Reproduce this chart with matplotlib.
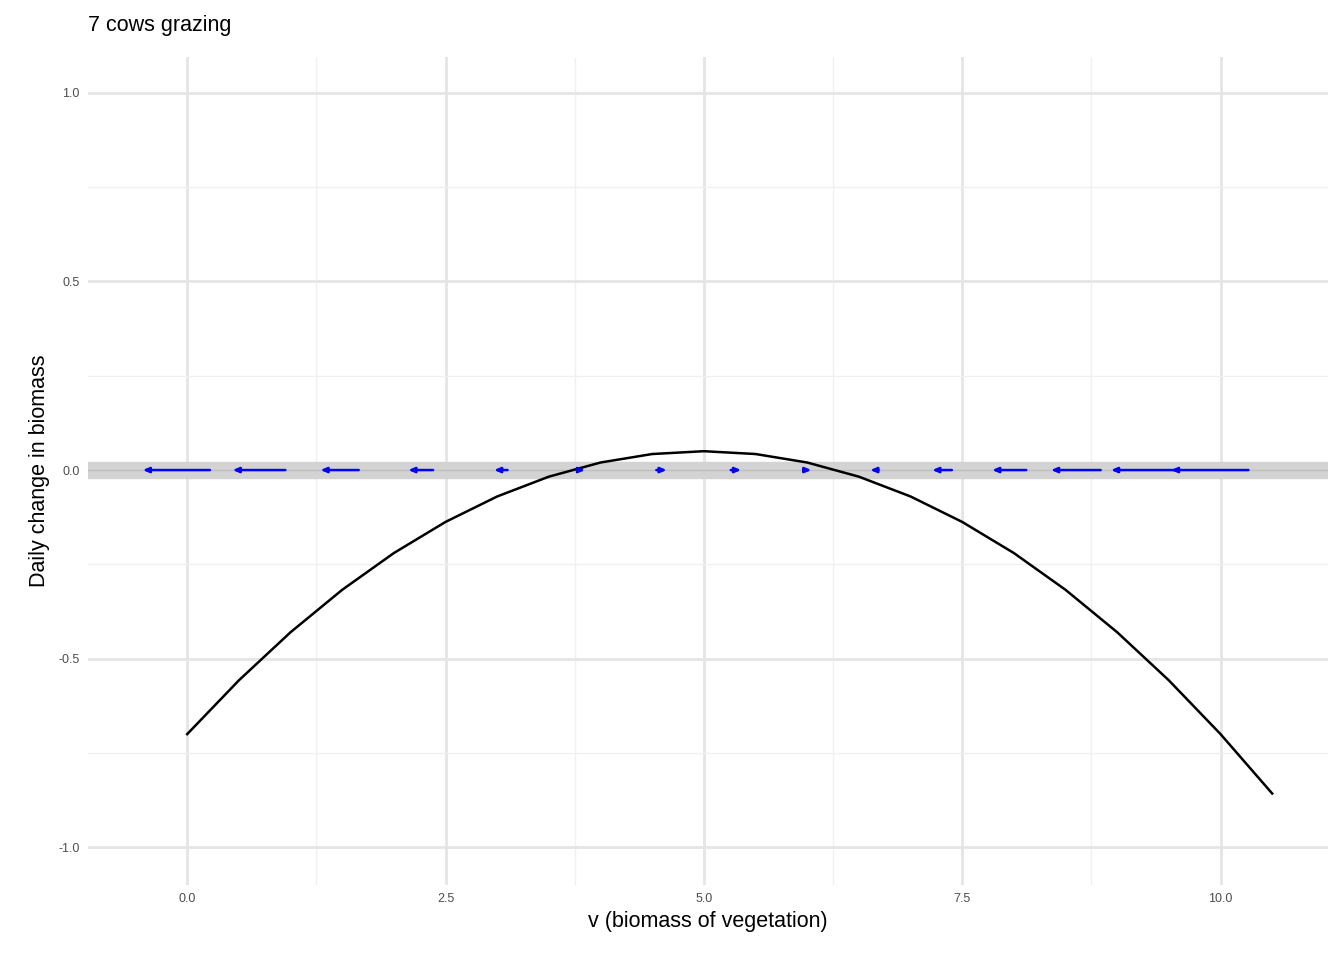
import matplotlib
matplotlib.use("Agg")
import matplotlib.pyplot as plt
import numpy as np

plt.rcParams['font.family'] = ['Liberation Sans', 'DejaVu Sans']

curve_v = [0.0, 0.5, 1.0, 1.5, 2.0, 2.5, 3.0, 3.5, 4.0, 4.5, 5.0, 5.5, 6.0, 6.5, 7.0, 7.5, 8.0, 8.5, 9.0, 9.5, 10.0, 10.5]
curve_dv = [-0.70, -0.5575, -0.43, -0.3175, -0.22, -0.1375, -0.07, -0.0175, 0.02, 0.0425, 0.05, 0.0425, 0.02, -0.0175, -0.07, -0.1375, -0.22, -0.3175, -0.43, -0.5575, -0.70, -0.8575]
arrow_start = [0.22, 0.95, 1.66, 2.38, 3.10, 3.79, 4.54, 5.26, 5.96, 6.69, 7.40, 8.12, 8.84, 9.55, 10.27]
arrow_end = [-0.43, 0.44, 1.29, 2.14, 2.97, 3.85, 4.64, 5.36, 6.04, 6.61, 7.21, 7.79, 8.36, 8.94, 9.52]
xticks = [0.0, 2.5, 5.0, 7.5, 10.0]
yticks = [-1.0, -0.5, 0.0, 0.5, 1.0]

fig = plt.figure(figsize=(13.44, 9.6), dpi=100)
ax = fig.add_axes([88/1344, 1-885/960, 1240/1344, 828/960])
ax.set_xlim(-0.96, 11.04)
ax.set_ylim(-1.1, 1.095)
for s in ax.spines.values():
    s.set_visible(False)
ax.set_xticks(xticks)
ax.set_xticklabels([f"{t:.1f}" for t in xticks])
ax.set_yticks(yticks)
ax.set_yticklabels([f"{t:.1f}" for t in yticks])
ax.set_xticks([1.25, 3.75, 6.25, 8.75], minor=True)
ax.set_yticks([-0.75, -0.25, 0.25, 0.75], minor=True)
ax.grid(True, which='major', color='#e5e5e5', lw=2)
ax.grid(True, which='minor', color='#f0f0f0', lw=1)
ax.tick_params(which='both', length=0, labelsize=9, colors='#4d4d4d', pad=6)
ax.set_axisbelow(True)

ax.axhspan(-0.021, 0.021, color='#d3d3d3', zorder=1)
ax.axhline(0, color='#bebebe', lw=1, zorder=1)
ax.plot(curve_v, curve_dv, color='black', lw=1.8, zorder=3)
for s, e in zip(arrow_start, arrow_end):
    ax.annotate('', xy=(e, 0), xytext=(s, 0),
                arrowprops=dict(arrowstyle='-|>,head_length=0.35,head_width=0.15', color='blue', lw=1.8, shrinkA=0, shrinkB=0), zorder=4)

ax.set_xlabel('v (biomass of vegetation)', fontsize=15.5, labelpad=4)
ax.set_ylabel('Daily change in biomass', fontsize=15.5, labelpad=6)
fig.text(88/1344, 1-25/960, '7 cows grazing', fontsize=15.5, va='center', ha='left')
fig.savefig('out.png', dpi=100)
